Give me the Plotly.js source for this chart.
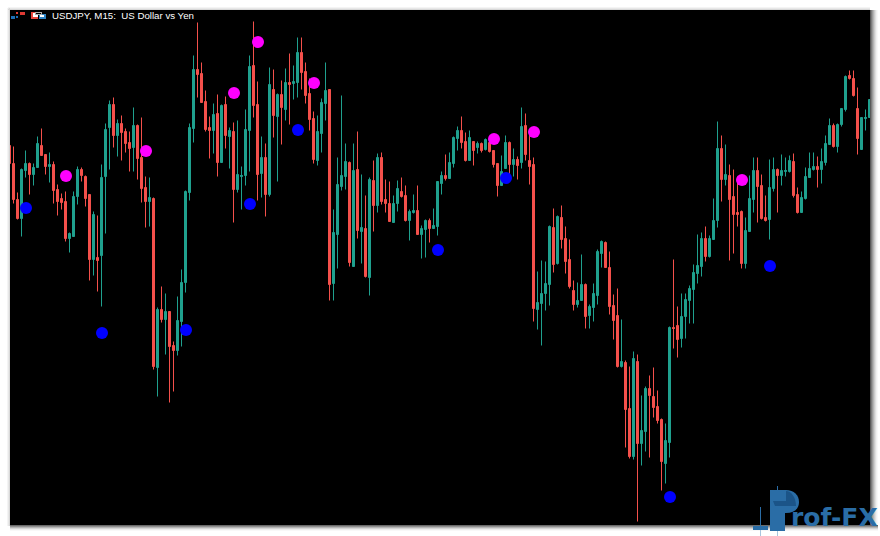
<!DOCTYPE html>
<html><head><meta charset="utf-8">
<script src="https://cdn.plot.ly/plotly-3.0.1.min.js"></script>
<style>html,body{margin:0;padding:0;background:#fff}#c{width:880px;height:536px}
.boxlayer{transform:translate(-0.5px,0.5px)}</style>
</head><body><div id="c"></div>
<script>
// Price, in points above an arbitrary base, one value per M15 candle (bar index -1 .. 214)
const opens = [380,362,326,307,355,362,351,358,380,371,
359,361,336,327,324,287,289,329,356,349,
331,266,268,270,349,398,421,390,402,394,
383,378,400,368,338,324,327,158,216,206,
214,180,175,204,243,333,397,456,452,424,
398,395,412,363,421,389,394,336,349,350,
395,460,421,352,368,331,436,409,431,416,
443,442,443,473,454,432,407,365,392,422,
436,242,291,339,349,363,259,356,294,297,
248,345,320,368,326,322,303,322,334,330,
305,313,315,291,296,305,297,299,342,350,
347,362,387,395,384,365,384,378,382,376,
383,375,362,340,357,383,361,366,363,400,
365,361,216,222,232,241,298,262,308,287,
266,235,221,225,241,210,218,230,272,283,
258,220,210,159,163,117,69,164,82,94,
137,129,119,106,62,83,198,200,187,209,
225,236,252,259,287,269,286,305,377,346,
350,329,313,314,262,294,326,355,340,308,
306,337,356,350,354,354,364,331,313,327,
348,356,359,356,363,381,400,379,401,416,
450,447,417,376,407,408];
const closes = [362,326,307,356,362,351,358,382,370,359,
361,335,324,323,287,292,329,356,350,327,
266,311,265,348,396,421,390,402,393,382,
377,400,367,337,324,328,159,216,206,214,
179,175,205,243,334,398,456,451,423,396,
395,411,363,420,390,395,336,351,350,396,
459,420,351,368,331,441,410,431,418,443,
441,444,473,453,430,406,366,394,423,435,
241,293,341,350,364,263,355,295,298,249,
346,320,368,324,322,304,322,337,329,305,
314,315,291,297,305,297,300,344,350,347,
363,388,395,383,365,388,375,382,375,386,
374,361,340,354,383,361,366,360,399,371,
359,217,223,232,242,299,261,309,286,264,
239,221,225,241,209,219,232,274,284,258,
219,205,159,164,116,69,167,82,95,137,
130,118,105,64,85,198,197,186,209,226,
237,253,260,287,269,287,305,377,346,351,
326,311,311,262,295,327,355,339,307,305,
338,356,350,355,355,365,330,313,328,349,
357,359,356,364,382,400,379,401,417,449,
447,430,387,408,408,426];
const highs = [380,379,333,357,375,363,362,389,397,371,
373,364,341,332,334,293,334,359,358,350,
331,314,310,361,402,425,428,406,410,397,
394,418,401,408,349,348,328,218,239,232,
214,184,229,256,335,402,470,503,463,435,
409,422,431,421,429,398,403,405,359,416,
470,504,444,389,382,458,456,432,445,457,
472,460,488,488,463,447,414,410,427,463,
436,316,368,430,382,364,382,394,351,330,
348,365,372,373,346,344,330,345,348,340,
316,331,340,300,306,307,317,344,354,371,
373,389,399,409,393,395,384,384,383,387,
387,375,362,370,390,384,377,369,418,412,
392,368,254,265,264,300,317,310,320,299,
286,245,243,271,242,221,242,276,285,284,
274,231,237,206,165,159,174,171,130,139,
150,158,135,107,102,199,266,219,232,232,
240,261,291,293,299,290,327,404,390,381,
361,356,349,315,308,350,368,368,351,330,
366,368,357,371,368,370,372,338,334,358,
373,373,369,377,390,407,402,402,417,450,
455,455,438,408,416,426];
const lows = [359,322,306,289,348,331,340,358,370,351,
343,322,310,316,284,273,289,321,344,319,
245,250,234,219,292,356,378,369,365,373,
354,354,346,323,298,299,156,129,203,171,
123,134,170,179,233,325,383,428,423,394,
367,372,349,363,377,357,303,333,316,340,
354,408,325,328,309,329,388,344,381,405,
401,426,428,436,422,395,362,360,373,405,
225,225,257,335,336,259,259,287,262,248,
230,294,313,321,313,304,303,314,328,304,
285,312,291,267,268,283,297,290,331,345,
347,358,375,377,364,365,360,372,373,375,
373,358,329,340,357,351,349,346,357,365,
341,204,196,180,215,220,253,261,277,252,
237,215,218,225,197,197,204,221,258,258,
211,186,158,158,78,67,66,4,60,74,
68,108,102,35,42,68,177,168,178,187,
202,202,242,249,264,268,286,298,324,340,
265,272,299,257,257,294,313,303,306,304,
286,334,313,340,349,353,328,312,313,326,
348,355,338,342,360,381,378,373,399,414,
446,429,371,376,395,408];
const bars = opens.map((_, i) => i - 1);

const magentaBars = [13,33,55,61,75,120,130,182];
const magentaVals = [349,374,432,483,442,386,393,345];
const blueBars = [3,22,43,59,71,106,123,164,189];
const blueVals = [317,192,195,321,395,275,347,28,259];

const chartTitle = 'USDJPY, M15:\u00A0\u00A0US Dollar vs Yen';
const upColor = '#1FA08E', downColor = '#F4504B', wmBlue = '#2A6DA6', wmDark = '#1B5488', wmPale = '#A9C6DE';

// page-pixel helpers for the decoration around the plot
const W = 880, H = 536, L = 10, R = 870, T = 10, B = 525;
const px = x => (x - L) / (R - L), py = y => (B - y) / (B - T);
const rect = (x0, y0, x1, y1, color, layer) => ({type:'rect', xref:'paper', yref:'paper',
  x0:px(x0), x1:px(x1), y0:py(y0), y1:py(y1), fillcolor:color, line:{width:0}, layer:layer||'above'});
const shapes = [];
// window shadow, outside the plot area
const rightShade = ['#5a5a5a','#7c7c7c','#9a9a9a','#b4b4b4','#cccccc','#e0e0e0','#f0f0f0','#f9f9f9'];
rightShade.forEach((c, i) => shapes.push(rect(870 + i, 10, 871 + i, 531, c, 'below')));
const bottomShade = ['#6a6a6a','#8f8f8f','#b4b4b4','#d4d4d4','#ececec','#f8f8f8'];
bottomShade.forEach((c, i) => shapes.push(rect(10, 525 + i, 878, 526 + i, c, 'below')));
['#f4f4f4','#e8e8e8','#d8d8d8'].forEach((c, i) => {
  shapes.push(rect(7 + i, 8, 8 + i, 526, c, 'below'));
  shapes.push(rect(8, 7 + i, 870, 8 + i, c, 'below'));
});
// toolbar icons
[[11,16,15,19,'#1C6EB4'],[16,12,18,14,'#E03A34'],[16,16,18,18,'#1C6EB4'],[20,12,25,15,'#E03A34'],
 [31,12,38,19,'#E8453C'],[33,13,38,17,'#ffffff'],[39,14,46,19,'#2C82C4'],[40,15,44,17,'#ffffff'],
 [35,12,42,15,'#aaaaaa'],[36,13,41,14,'#000000']]
  .forEach(r => shapes.push(rect(r[0], r[1], r[2], r[3], r[4])));
// Prof-FX watermark: bar icon, stem lines
[[760,507,761,526,wmBlue],[760,530,761,536,wmPale],[753,526,768,530,wmBlue],
 [777,486,778,490,wmBlue],[777,531,778,536,wmPale]]
  .forEach(r => shapes.push(rect(r[0], r[1], r[2], r[3], r[4])));
shapes.push(rect(770, 490, 785, 531, wmBlue));
shapes.push({type:'path', xref:'paper', yref:'paper', fillcolor:wmBlue, line:{width:0},
  path:`M ${px(780)} ${py(490)} L ${px(786)} ${py(490)} C ${px(794)} ${py(490)} ${px(799)} ${py(495)} ${px(799)} ${py(502)} C ${px(799)} ${py(509)} ${px(794)} ${py(513)} ${px(786)} ${py(513)} L ${px(780)} ${py(513)} Z`});
shapes.push({type:'path', xref:'paper', yref:'paper', fillcolor:wmDark, line:{width:0},
  path:`M ${px(773)} ${py(501)} L ${px(786)} ${py(501)} L ${px(786)} ${py(491)} C ${px(791)} ${py(491)} ${px(796)} ${py(497)} ${px(796)} ${py(506)} L ${px(775)} ${py(506)} Z`});

const data = [
  {type:'candlestick', x:bars, open:opens, high:highs, low:lows, close:closes,
   increasing:{line:{color:upColor, width:1}, fillcolor:upColor},
   decreasing:{line:{color:downColor, width:1}, fillcolor:downColor},
   whiskerwidth:0, hoverinfo:'skip', showlegend:false},
  {type:'scatter', mode:'markers', x:magentaBars, y:magentaVals, marker:{color:'#FF00FF', size:12, line:{width:0}}, hoverinfo:'skip', showlegend:false},
  {type:'scatter', mode:'markers', x:blueBars, y:blueVals, marker:{color:'#0000FF', size:12, line:{width:0}}, hoverinfo:'skip', showlegend:false}
];
const layout = {
  width:W, height:H, margin:{l:L, r:W-R, t:T, b:H-B, pad:0},
  paper_bgcolor:'#ffffff', plot_bgcolor:'#000000', showlegend:false, boxgap:0.5, boxgroupgap:0,
  xaxis:{range:[-1,214], visible:false, fixedrange:true, rangeslider:{visible:false}},
  yaxis:{range:[0,515], visible:false, fixedrange:true},
  shapes,
  annotations:[
    {xref:'paper', yref:'paper', x:px(50), y:py(15.5), xanchor:'left', yanchor:'middle', showarrow:false,
     text:chartTitle, font:{family:'Liberation Sans, Arial, sans-serif', size:9.7, color:'#ffffff'}},
    {xref:'paper', yref:'paper', x:px(789), y:py(517.5), xanchor:'left', yanchor:'middle', showarrow:false,
     text:'rof-FX', font:{family:'DejaVu Sans, Verdana, sans-serif', size:25, color:wmBlue, weight:700}}
  ]
};
Plotly.newPlot('c', data, layout, {displayModeBar:false, staticPlot:true});
</script></body></html>
